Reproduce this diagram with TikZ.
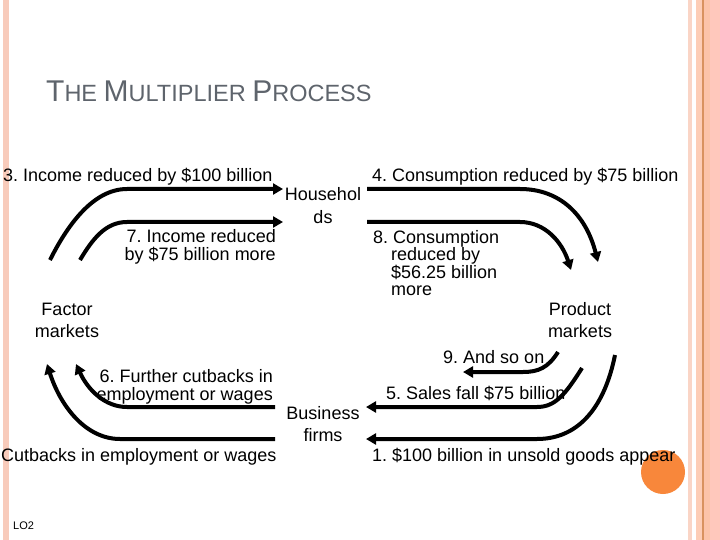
\documentclass[tikz,border=0pt]{standalone}
\usepackage{fontspec}
\setmainfont{Liberation Sans}
\usetikzlibrary{arrows.meta}
\frenchspacing
\definecolor{barA}{HTML}{F8CBBB}
\definecolor{barB}{HTML}{FAD5C6}
\definecolor{barC}{HTML}{FDCDB6}
\definecolor{barLine}{HTML}{D9925F}
\definecolor{barD}{HTML}{FCC3A9}
\definecolor{barE}{HTML}{FFC8BC}
\definecolor{titlegray}{HTML}{5E646C}
\definecolor{dotorange}{HTML}{F8873B}
\begin{document}
\begin{tikzpicture}[x=1pt,y=-1pt,
  lbl/.style={inner sep=0pt,font=\fontsize{18}{17.5}\selectfont},
  wide/.style={font=\fontsize{18}{22}\selectfont},
  flow/.style={line width=4pt,-{Triangle[length=10pt,width=11pt]}}]
\useasboundingbox (0,0) rectangle (720,540);
\fill[white] (0,0) rectangle (720,540);
% borders
\fill[barA] (3,0) rectangle (9,540);
\fill[barB] (688,0) rectangle (692,540);
\fill[barC] (696,0) rectangle (702,540);
\fill[barLine] (702,0) rectangle (704,540);
\fill[barD] (704,0) rectangle (710,540);
\fill[barE] (710,0) rectangle (720,540);
% title
\node[inner sep=0pt,anchor=base west,text=titlegray] (title) at (46,102)
  {\fontsize{30}{30}\selectfont T\fontsize{23.5}{30}\selectfont HE \fontsize{30}{30}\selectfont M\fontsize{23.5}{30}\selectfont ULTIPLIER \fontsize{30}{30}\selectfont P\fontsize{23.5}{30}\selectfont ROCESS};
% dot
\fill[dotorange] (663,472) circle (22);
% labels (multi-line nodes: base = baseline of last line)
\node[lbl,anchor=base west] (t3) at (3,182) {3. Income reduced by \$100 billion};
\node[lbl,wide,anchor=base,align=center] (hh) at (323,223) {Househol\\ds};
\node[lbl,anchor=base west] (t4) at (372,182) {4. Consumption reduced by \$75 billion};
\node[lbl,anchor=base east,align=right] (t7) at (276,260) {7. Income reduced\\by \$75 billion more};
\node[lbl,anchor=base west,align=left] (t8) at (373,295.5) {8. Consumption\\\hspace*{18pt}reduced by\\\hspace*{18pt}\$56.25 billion\\\hspace*{18pt}more};
\node[lbl,wide,anchor=base,align=center] (fm) at (67,337) {Factor\\markets};
\node[lbl,wide,anchor=base,align=center] (pm) at (580,337) {Product\\markets};
\node[lbl,anchor=base west] (t9) at (443,363) {9. And so on};
\node[lbl,anchor=base east,align=right] (t6) at (273,400) {6. Further cutbacks in\\employment or wages};
\node[lbl,anchor=base west] (t5) at (386,399) {5. Sales fall \$75 billion};
\node[lbl,wide,anchor=base,align=center] (bf) at (323,441) {Business\\firms};
\node[lbl,anchor=base west] (tc) at (1,461) {Cutbacks in employment or wages};
\node[lbl,anchor=base west] (t1) at (372,461) {1. \$100 billion in unsold goods appear};
\node[inner sep=0pt,anchor=base west,font=\fontsize{11}{11}\selectfont] (lo) at (13,529) {LO2};
% arrow end points
\coordinate (a1) at (50,260); \coordinate (a2) at (127,189); \coordinate (a3) at (283,189);
\coordinate (b1) at (80,260); \coordinate (b2) at (127,222); \coordinate (b3) at (283,222);
\coordinate (c1) at (367,189); \coordinate (c2) at (520,189); \coordinate (c3) at (598,262);
\coordinate (d1) at (367,222); \coordinate (d2) at (520,222); \coordinate (d3) at (571,270);
\coordinate (e1) at (558,352); \coordinate (e2) at (523,372); \coordinate (e3) at (463,372);
\coordinate (f1) at (582,368); \coordinate (f2) at (537,407); \coordinate (f3) at (366,407);
\coordinate (g1) at (615,355); \coordinate (g2) at (537,439); \coordinate (g3) at (366,439);
\coordinate (h1) at (275,407); \coordinate (h2) at (127,407); \coordinate (h3) at (76,364);
\coordinate (i1) at (275,439); \coordinate (i2) at (120,439); \coordinate (i3) at (47,364);
% arrows
\draw[flow] (a1) .. controls (66,228) and (92,189) .. (a2) -- (a3);
\draw[flow] (b1) .. controls (92,240) and (105,222) .. (b2) -- (b3);
\draw[flow] (c1) -- (c2) .. controls (560,189) and (586,215) .. (c3);
\draw[flow] (d1) -- (d2) .. controls (545,222) and (562,242) .. (d3);
\draw[flow] (e1) .. controls (548,368) and (538,372) .. (e2) -- (e3);
\draw[flow] (f1) .. controls (565,395) and (555,407) .. (f2) -- (f3);
\draw[flow] (g1) .. controls (605,405) and (580,439) .. (g2) -- (g3);
\draw[flow] (h1) -- (h2) .. controls (105,407) and (88,390) .. (h3);
\draw[flow] (i1) -- (i2) .. controls (85,439) and (60,405) .. (i3);
\end{tikzpicture}
\end{document}
